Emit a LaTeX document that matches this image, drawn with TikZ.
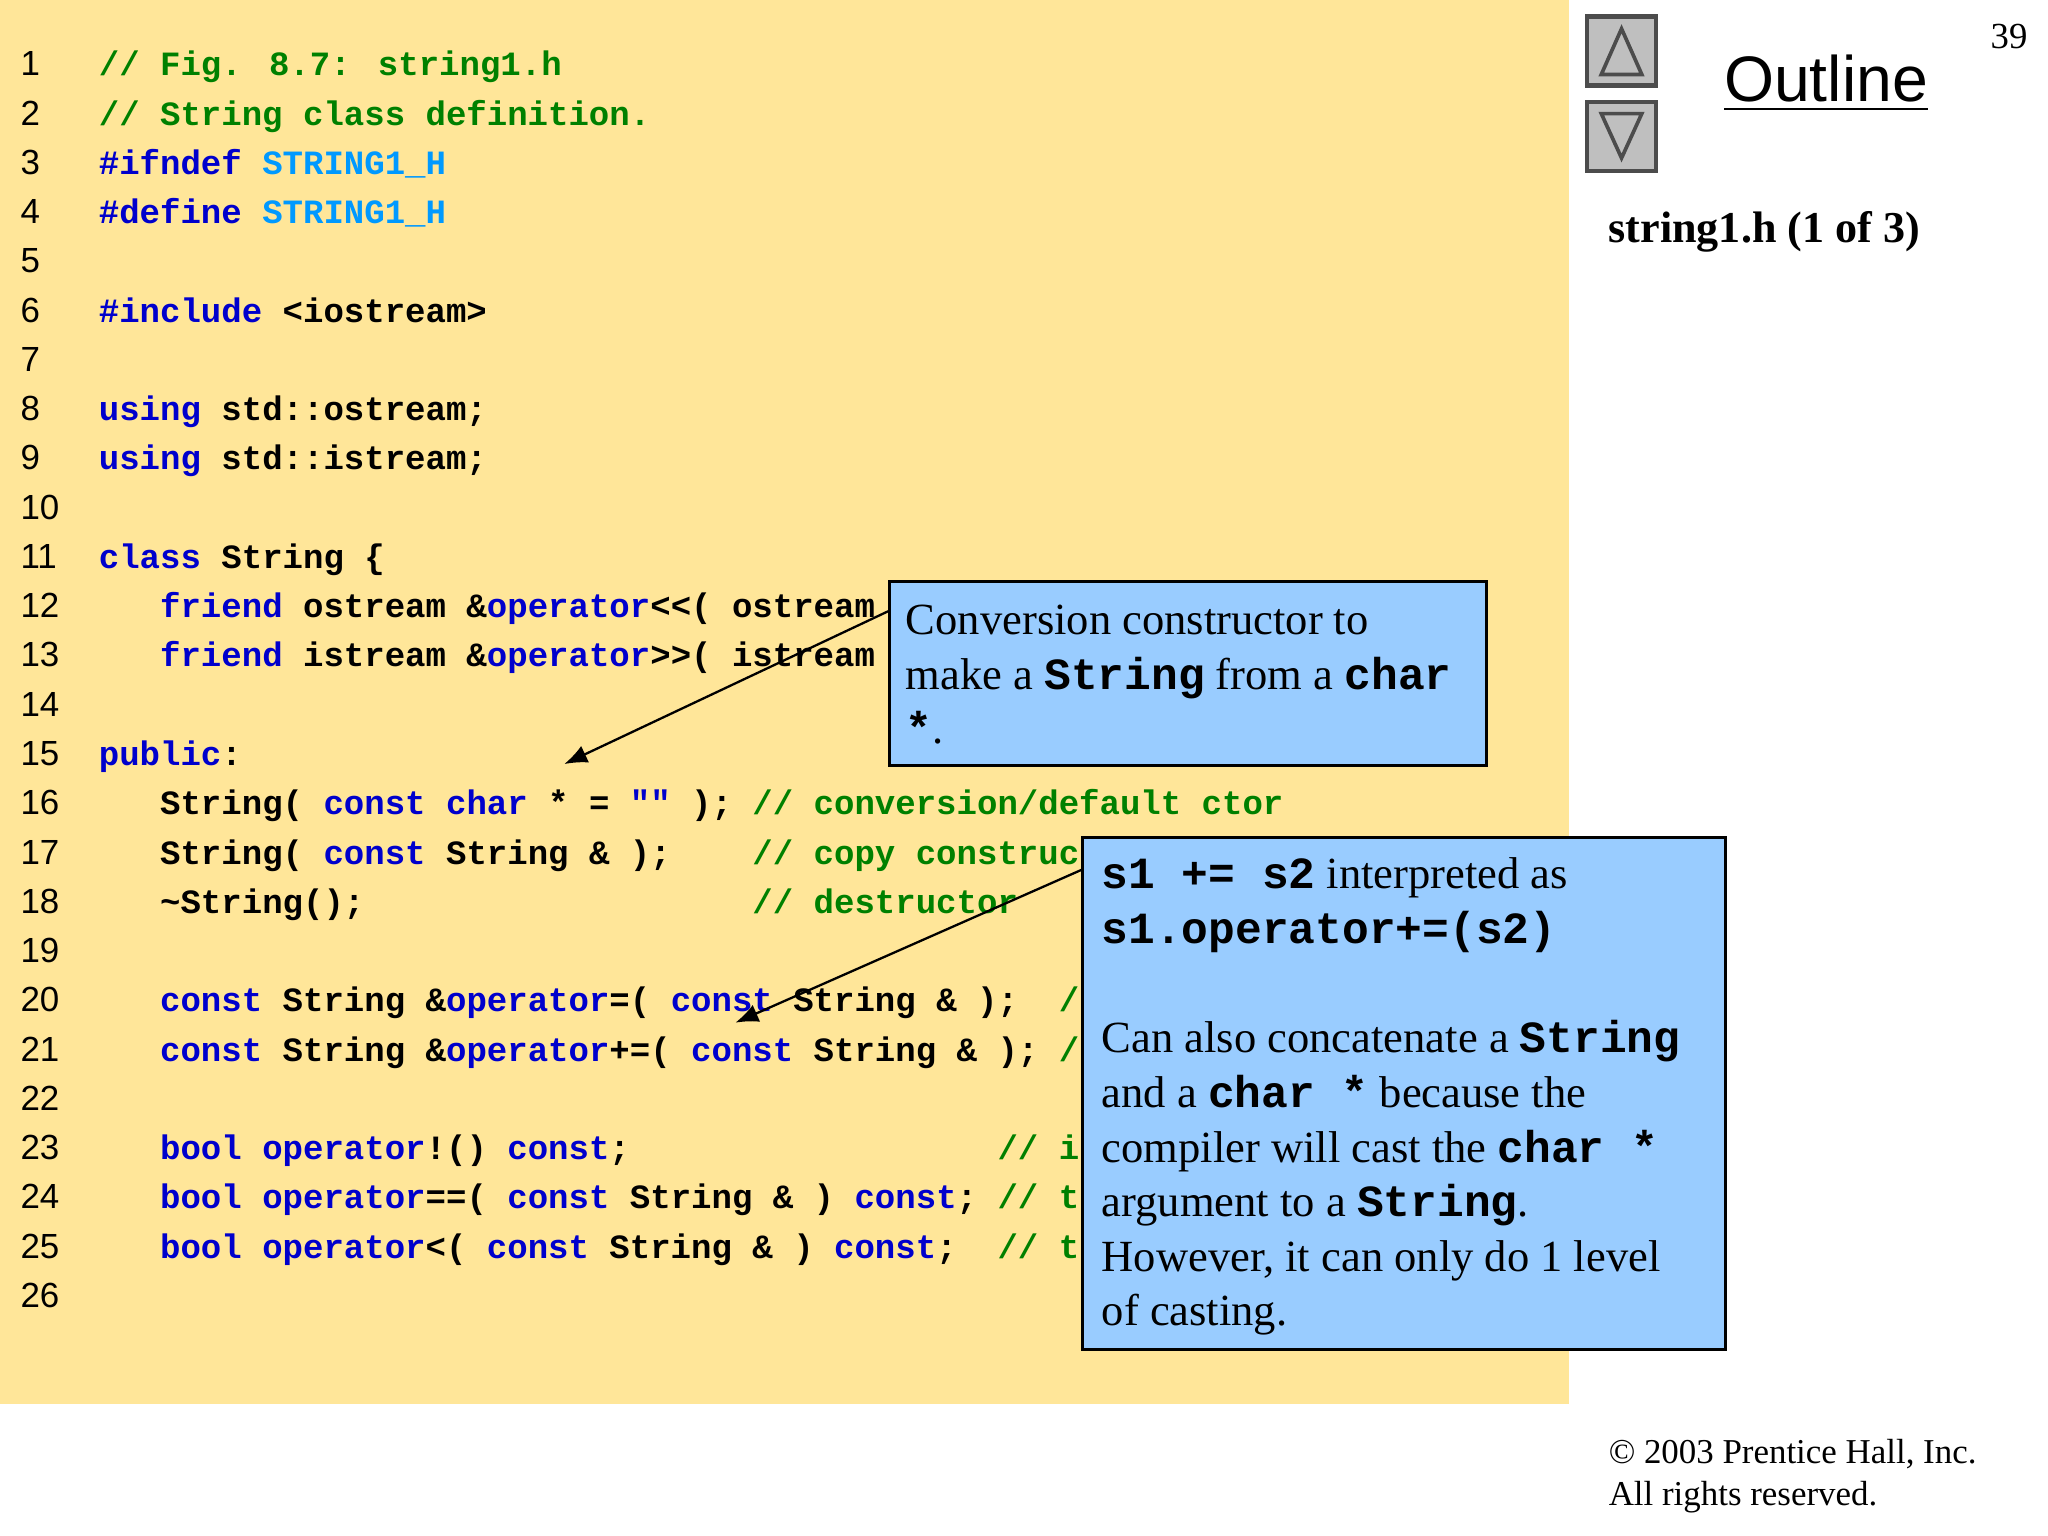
\documentclass[tikz,border=0pt]{standalone}
\usepackage{fontspec}
\setmainfont{Liberation Serif}
\newfontfamily\codefont{Liberation Mono}[BoldFont=* Bold]
\newfontfamily\sansf{Liberation Sans}
\usetikzlibrary{arrows.meta}
\definecolor{bgy}{RGB}{255,230,153}
\definecolor{kw}{RGB}{0,0,204}
\definecolor{cm}{RGB}{0,128,0}
\definecolor{pp}{RGB}{0,153,255}
\definecolor{bx}{RGB}{153,204,255}
\newcommand\SPx[1]{\hskip #1\fontdimen2\font}
\newcommand\Kx[1]{\textcolor{kw}{#1}}
\newcommand\Cx[1]{\textcolor{cm}{#1}}
\newcommand\Px[1]{\textcolor{pp}{#1}}
\newcommand\Mx[1]{{\codefont\bfseries #1}}
\tikzset{
 code/.style={anchor=base west,inner sep=0,font=\codefont\bfseries\fontsize{7.41pt}{9pt}\selectfont},
 num/.style={anchor=base west,inner sep=0,font=\sansf\fontsize{7.6pt}{9pt}\selectfont},
 callout/.style={draw=black,fill=bx,line width=0.6pt,anchor=north west,inner sep=0,align=left,font=\fontsize{9.7pt}{11.9pt}\selectfont},
 arr/.style={-{Latex[length=5pt,width=4pt]},line width=0.5pt},
 btn/.style={draw=black!70,fill=black!25,line width=1pt,minimum size=0.53cm,inner sep=0}
}
\begin{document}
\begin{tikzpicture}[x=0.01cm,y=-0.01cm]
\useasboundingbox (0,0) rectangle (1568,1176);
\fill[white] (0,0) rectangle (1568,1176);
\fill[bgy] (0,0) rectangle (1201,1075);
\foreach \i in {1,...,26} \node[num] (n\i) at (15,{50+37.72*(\i-1)+8}) {\i};
\def\L#1#2{\node[code] (l#1) at (75,{50+37.72*(#1-1)+8}) {#2};}
\L{1}{\Cx{// Fig. 8.7: string1.h}}
\L{2}{\Cx{// String class definition.}}
\L{3}{\Kx{\#ifndef} \Px{STRING1\_H}}
\L{4}{\Kx{\#define} \Px{STRING1\_H}}
\L{6}{\Kx{\#include} <iostream>}
\L{8}{\Kx{using} std::ostream;}
\L{9}{\Kx{using} std::istream;}
\L{11}{\Kx{class} String \{}
\L{12}{\SPx{3}\Kx{friend} ostream \&\Kx{operator}<<( ostream}
\L{13}{\SPx{3}\Kx{friend} istream \&\Kx{operator}>>( istream}
\L{15}{\Kx{public}:}
\L{16}{\SPx{3}String( \Kx{const} \Kx{char} * = \Kx{""} ); \Cx{// conversion/default ctor}}
\L{17}{\SPx{3}String( \Kx{const} String \& );\SPx{4}\Cx{// copy construc}}
\L{18}{\SPx{3}\textasciitilde String();\SPx{19}\Cx{// destructor}}
\L{20}{\SPx{3}\Kx{const} String \&\Kx{operator}=( \Kx{const} String \& );\SPx{2}\Cx{/}}
\L{21}{\SPx{3}\Kx{const} String \&\Kx{operator}+=( \Kx{const} String \& ); \Cx{/}}
\L{23}{\SPx{3}\Kx{bool} \Kx{operator}!() \Kx{const};\SPx{18}\Cx{// i}}
\L{24}{\SPx{3}\Kx{bool} \Kx{operator}==( \Kx{const} String \& ) \Kx{const}; \Cx{// t}}
\L{25}{\SPx{3}\Kx{bool} \Kx{operator}<( \Kx{const} String \& ) \Kx{const};\SPx{2}\Cx{// t}}
% callouts
\node[callout,minimum width=4.57cm,minimum height=1.41cm] (b1) at (680,444) {\hspace*{0.08cm}\begin{minipage}[t]{4.4cm}\vspace*{0.02cm}Conversion constructor to\\make a \Mx{String} from a \Mx{char}\\\Mx{*}.\end{minipage}};
\coordinate (a1s) at (680,468);
\coordinate (a1e) at (432,585);
\draw[arr] (a1s) -- (a1e);
\node[callout,minimum width=4.92cm,minimum height=3.92cm] (b2) at (828,640) {\hspace*{0.12cm}\begin{minipage}[t]{4.75cm}\vspace*{0.05cm}\Mx{s1 += s2} interpreted as\\\Mx{s1.operator+=(s2)}\\[11.9pt]Can also concatenate a \Mx{String}\\and a \Mx{char *} because the\\compiler will cast the \Mx{char *}\\argument to a \Mx{String}.\\However, it can only do 1 level\\of casting.\end{minipage}};
\coordinate (a2s) at (828,666);
\coordinate (a2e) at (563,783);
\draw[arr] (a2s) -- (a2e);
% right panel
\node[btn] (up) at (1241.5,39) {};
\node[btn] (dn) at (1241.5,104.5) {};
\draw[black!70,line width=0.8pt,fill=black!25] (1226,57) -- (1257,57) -- (1241.5,22) -- cycle;
\draw[black!70,line width=0.8pt,fill=black!25] (1226,87) -- (1257,87) -- (1241.5,121) -- cycle;
\node[anchor=base,inner sep=0,font=\sansf\fontsize{14pt}{16pt}\selectfont] (ol) at (1398,78) {\underline{Outline}};
\node[anchor=base west,inner sep=0,font=\bfseries\fontsize{9.6pt}{11pt}\selectfont] (st) at (1231,186) {string1.h (1 of 3)};
\node[anchor=base east,inner sep=0,font=\fontsize{8pt}{9pt}\selectfont] (pg) at (1553,37) {39};
\node[anchor=north west,inner sep=0,align=left,font=\fontsize{7.6pt}{9.2pt}\selectfont] (cp) at (1231,1101) {\textcopyright\ 2003 Prentice Hall, Inc.\\All rights reserved.};
\end{tikzpicture}
\end{document}
